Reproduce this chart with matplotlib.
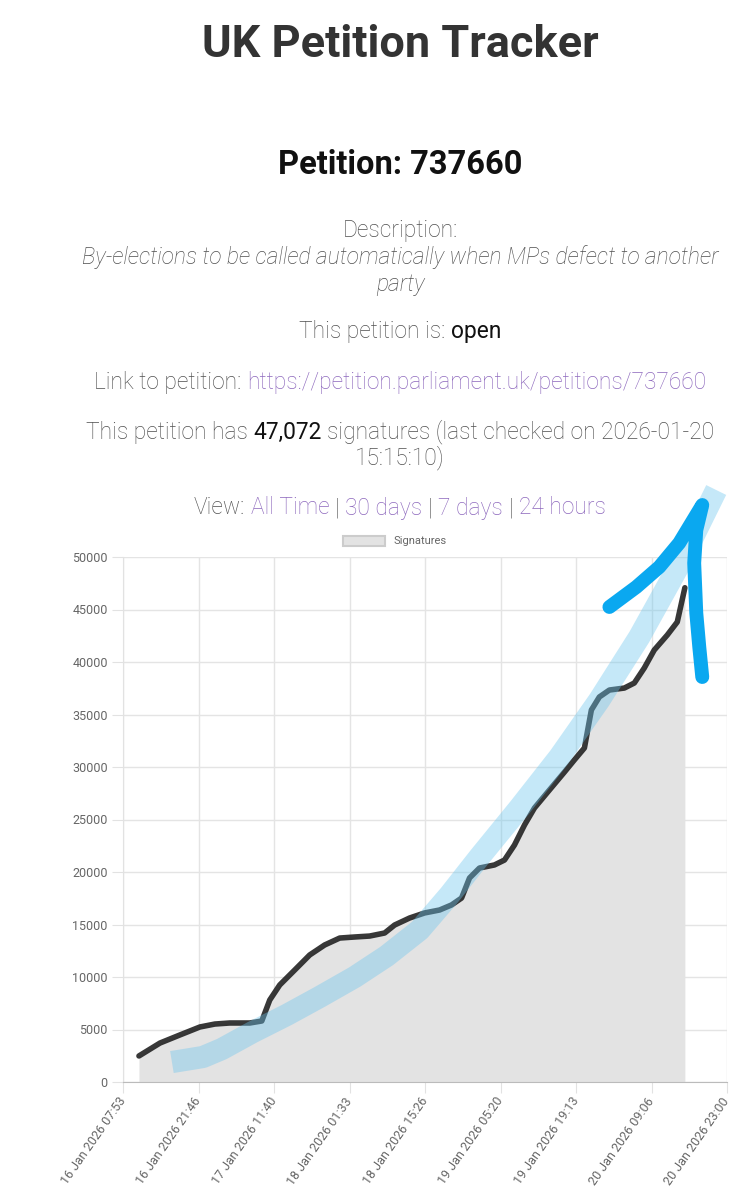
import numpy as np
import pandas as pd
import matplotlib
matplotlib.use("Agg")
import matplotlib.pyplot as plt
import matplotlib.dates as mdates
from matplotlib.patches import Patch

# signatures over time
times = ["2026-01-16 10:49", "2026-01-16 14:41", "2026-01-16 18:21", "2026-01-16 22:02",
         "2026-01-17 00:47", "2026-01-17 03:32", "2026-01-17 07:13", "2026-01-17 09:25",
         "2026-01-17 10:53", "2026-01-17 12:43", "2026-01-17 15:29", "2026-01-17 18:14",
         "2026-01-17 20:59", "2026-01-17 23:45", "2026-01-18 02:30", "2026-01-18 05:16",
         "2026-01-18 08:01", "2026-01-18 09:51", "2026-01-18 12:37", "2026-01-18 15:22",
         "2026-01-18 18:07", "2026-01-18 20:19", "2026-01-18 22:10", "2026-01-18 23:38",
         "2026-01-19 01:28", "2026-01-19 04:13", "2026-01-19 06:04", "2026-01-19 07:54",
         "2026-01-19 09:45", "2026-01-19 11:35", "2026-01-19 14:20", "2026-01-19 17:06",
         "2026-01-19 18:55", "2026-01-19 20:46", "2026-01-19 22:03", "2026-01-19 23:31",
         "2026-01-20 01:22", "2026-01-20 04:07", "2026-01-20 05:57", "2026-01-20 07:47",
         "2026-01-20 09:37", "2026-01-20 12:01", "2026-01-20 13:51", "2026-01-20 15:15"]
signatures = [2480, 3710, 4480, 5240, 5520, 5620, 5620, 5810,
              7810, 9240, 10670, 12100, 13050, 13710, 13810, 13900,
              14190, 14950, 15620, 16100, 16380, 16860, 17520, 19430,
              20380, 20670, 21140, 22570, 24480, 26100, 27810, 29520,
              30670, 31810, 35430, 36670, 37330, 37520, 38000, 39430,
              41140, 42570, 43810, 47072]

# hand-drawn annotations on the screenshot
band_times = ["2026-01-16 16:53", "2026-01-16 22:35", "2026-01-17 02:04", "2026-01-17 07:46",
              "2026-01-17 13:59", "2026-01-17 20:04", "2026-01-18 02:31", "2026-01-18 08:23",
              "2026-01-18 14:27", "2026-01-18 19:58", "2026-01-19 01:28", "2026-01-19 08:49",
              "2026-01-19 16:10", "2026-01-19 23:31", "2026-01-20 06:52", "2026-01-20 14:13",
              "2026-01-20 21:01"]
band_values = [1900, 2380, 3140, 4760, 6380, 8100, 10000, 12000, 14480,
               17810, 21430, 26100, 30950, 36380, 42380, 49240, 56380]
arrow_times = ["2026-01-20 01:22", "2026-01-20 06:19", "2026-01-20 10:33", "2026-01-20 14:13",
               "2026-01-20 18:27", "2026-01-20 17:21", "2026-01-20 16:58", "2026-01-20 17:21",
               "2026-01-20 17:54", "2026-01-20 18:27"]
arrow_values = [45240, 47140, 49050, 51330, 54950, 52570, 49430, 44670, 41430, 38570]

x_start = "2026-01-16 07:53"
x_end = "2026-01-20 23:00"
tick_labels = ["16 Jan 2026 07:53", "16 Jan 2026 21:46", "17 Jan 2026 11:40",
               "18 Jan 2026 01:33", "18 Jan 2026 15:26", "19 Jan 2026 05:20",
               "19 Jan 2026 19:13", "20 Jan 2026 09:06", "20 Jan 2026 23:00"]
y_ticks = list(range(0, 50001, 5000))

W, H = 755, 1200
CX = 400
plt.rcParams["font.family"] = ["Roboto", "DejaVu Sans"]
fig = plt.figure(figsize=(W / 100, H / 100), dpi=100)

GREY = "#4f4f4f"
LINK = "#8d68bd"


def text_row(y_px, segs, size, gap=0.25):
    # segs: list of (text, color, weight, style); centred as one line
    y = 1 - y_px / H
    items = []
    for s, c, w, st in segs:
        items.append(fig.text(0, y, s, fontsize=size, color=c, fontweight=w,
                              fontstyle=st, va="center", ha="left"))
    r = fig.canvas.get_renderer()
    widths = [t.get_window_extent(r).width for t in items]
    sp = size * 100 / 72 * gap
    total = sum(widths) + sp * (len(items) - 1)
    x = CX - total / 2
    for t, w in zip(items, widths):
        t.set_x(x / W)
        x += w + sp


text_row(45, [("UK Petition Tracker", "#333333", "bold", "normal")], 32.5)
text_row(165, [("Petition: 737660", "#111111", "bold", "normal")], 23.5)
text_row(231, [("Description:", GREY, "light", "normal")], 16.4)
text_row(257, [("By-elections to be called automatically when MPs defect to another",
                GREY, "light", "italic")], 16.4)
text_row(284, [("party", GREY, "light", "italic")], 16.4)
text_row(332, [("This petition is:", GREY, "light", "normal"),
               ("open", "#111111", "normal", "normal")], 16.4)
text_row(382, [("Link to petition:", GREY, "light", "normal"),
               ("https://petition.parliament.uk/petitions/737660", LINK, "light", "normal")], 16.4)
text_row(432, [("This petition has", GREY, "light", "normal"),
               ("47,072", "#111111", "normal", "normal"),
               ("signatures (last checked on 2026-01-20", GREY, "light", "normal")], 16.4)
text_row(458, [("15:15:10)", GREY, "light", "normal")], 16.4)
text_row(508, [("View:", GREY, "light", "normal"), ("All Time", LINK, "light", "normal"),
               ("|", GREY, "light", "normal"), ("30 days", LINK, "light", "normal"),
               ("|", GREY, "light", "normal"), ("7 days", LINK, "light", "normal"),
               ("|", GREY, "light", "normal"), ("24 hours", LINK, "light", "normal")], 16.4)

ax = fig.add_axes([123 / W, 1 - 1082 / H, (727 - 123) / W, (1082 - 557) / H])

t = pd.to_datetime(times)
ax.fill_between(t, 0, signatures, color="#e3e3e3", lw=0, zorder=1)
ax.plot(t, signatures, color="#222222", lw=4.0, alpha=0.9, solid_capstyle="round",
        solid_joinstyle="round", zorder=3)

ax.plot(pd.to_datetime(band_times), band_values, color="#6ec6ee", alpha=0.4, lw=16,
        solid_capstyle="butt", solid_joinstyle="round", zorder=4, clip_on=False)
ax.plot(pd.to_datetime(arrow_times), arrow_values, color="#0aa8f0", lw=10,
        solid_capstyle="round", solid_joinstyle="round", zorder=5, clip_on=False)

x0, x1 = pd.Timestamp(x_start), pd.Timestamp(x_end)
ax.set_xlim(x0, x1)
ax.set_ylim(0, 50000)
ticks = mdates.date2num(pd.date_range(x0, x1, periods=len(tick_labels)))
ax.set_xticks(ticks)
ax.set_xticklabels(tick_labels, rotation=55, ha="right", va="center",
                   rotation_mode="anchor", fontsize=9, color="#666666")
ax.set_yticks(y_ticks)
ax.set_yticklabels([str(v) for v in y_ticks], fontsize=9, color="#666666")
ax.tick_params(axis="both", length=8, color="#e2e2e2", pad=3)
ax.tick_params(axis="x", pad=4)
ax.grid(True, color="#e4e4e4", lw=1)
ax.set_axisbelow(True)
for s in ["top", "right"]:
    ax.spines[s].set_visible(False)
ax.spines["left"].set_color("#e2e2e2")
ax.spines["bottom"].set_color("#bbbbbb")

fig.legend(handles=[Patch(facecolor="#e3e3e3", edgecolor="#cccccc", lw=1.5)],
           labels=["Signatures"], loc="center", bbox_to_anchor=(395 / W, 1 - 541 / H),
           frameon=False, fontsize=8, handlelength=3.8, handleheight=1.0,
           labelcolor="#666666")

fig.savefig("out.png", dpi=100, facecolor="white")
